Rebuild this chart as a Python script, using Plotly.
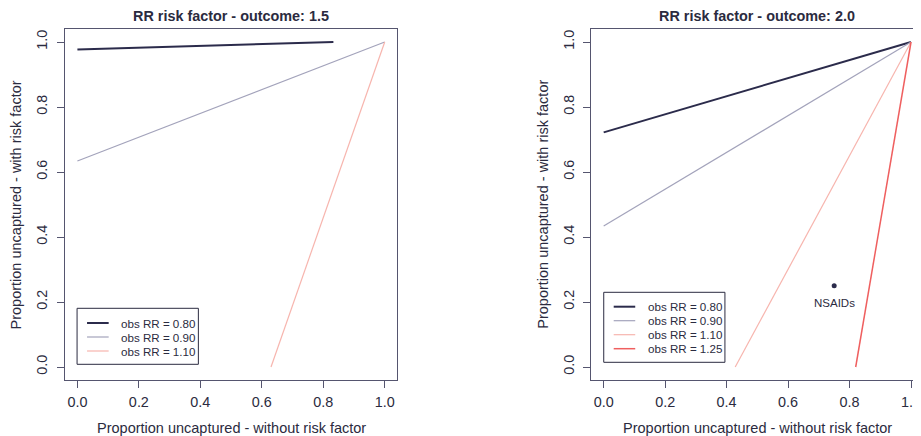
import plotly.graph_objects as go

# ---------------- data ----------------
titles = ["RR risk factor - outcome: 1.5", "RR risk factor - outcome: 2.0"]
x_title = "Proportion uncaptured - without risk factor"
y_title = "Proportion uncaptured - with risk factor"
tick_vals = [0.0, 0.2, 0.4, 0.6, 0.8, 1.0]
tick_text = ["0.0", "0.2", "0.4", "0.6", "0.8", "1.0"]

obs_rr_labels = ["obs RR = 0.80", "obs RR = 0.90", "obs RR = 1.10", "obs RR = 1.25"]

# panel 1 (RR risk factor - outcome 1.5)
p1_x = [[0.0, 0.833], [0.0, 1.0], [0.630, 1.0]]
p1_y = [[0.977, 1.0], [0.634, 1.0], [0.0, 1.0]]

# panel 2 (RR risk factor - outcome 2.0)
p2_x = [[0.0, 1.0], [0.0, 1.0], [0.428, 1.0], [0.820, 1.0]]
p2_y = [[0.722, 1.0], [0.434, 1.0], [0.0, 1.0], [0.0, 1.0]]

point_label = ["NSAIDs"]
point_x = [0.75]
point_y = [0.25]

# ---------------- style ----------------
OFF = 8  # page body margin
W, H = 921 - OFF, 436 - OFF
FONT = "Liberation Sans, Arial, Helvetica, sans-serif"
TXT = "#2b2b40"
AX = "#55556f"
colors = ["#2b2b4b", "#a3a3bb", "#f7b5ae", "#ef5f5f"]
widths = [2.0, 1.2, 1.2, 1.5]


def px(x):
    return (x - OFF) / W


def py(y):
    return 1 - (y - OFF) / H


fig = go.Figure()

for i, (xs, ys) in enumerate(zip(p1_x, p1_y)):
    fig.add_trace(go.Scatter(x=xs, y=ys, mode="lines", xaxis="x", yaxis="y",
                             line=dict(color=colors[i], width=widths[i]),
                             name=obs_rr_labels[i], showlegend=False))
for i, (xs, ys) in enumerate(zip(p2_x, p2_y)):
    fig.add_trace(go.Scatter(x=xs, y=ys, mode="lines", xaxis="x2", yaxis="y2",
                             line=dict(color=colors[i], width=widths[i]),
                             name=obs_rr_labels[i], showlegend=False))

fig.add_trace(go.Scatter(x=point_x, y=point_y, mode="markers", xaxis="x2", yaxis="y2",
                         marker=dict(color=colors[0], size=5), showlegend=False))
for lx, ly, lt in zip(point_x, point_y, point_label):
    fig.add_annotation(x=lx, y=ly, xref="x2", yref="y2", text=lt, showarrow=False,
                       yshift=-17.6, font=dict(family=FONT, size=11.5, color=TXT))

ydom = [py(380), py(29)]
axis_common = dict(
    tickvals=tick_vals, ticktext=tick_text, ticks="outside", ticklen=7,
    tickwidth=1, tickcolor=AX, showline=True, linecolor=AX, linewidth=1,
    showgrid=False, zeroline=False,
    tickfont=dict(family=FONT, size=14.4, color=TXT),
)

fig.update_layout(
    width=W, height=H,
    margin=dict(l=0, r=0, t=0, b=0, pad=0),
    plot_bgcolor="white", paper_bgcolor="white",
    showlegend=False,
    xaxis=dict(domain=[px(65.3), px(398.3)], range=[-0.04, 1.04], anchor="y",
               mirror=True, ticklabelstandoff=2, **axis_common),
    yaxis=dict(domain=ydom, range=[-0.04, 1.04], anchor="x", mirror=True,
               tickangle=-90, ticklabelstandoff=4, **axis_common),
    xaxis2=dict(domain=[px(593.3), 1.0], range=[-0.04, 1.0227], anchor="y2",
                mirror=True, ticklabelstandoff=2, ticklabeloverflow="allow", **axis_common),
    yaxis2=dict(domain=ydom, range=[-0.04, 1.04], anchor="x2", mirror=False,
                tickangle=-90, ticklabelstandoff=4, **axis_common),
)

# titles and axis titles
for cx, t in zip([231.8, 759.8], titles):
    fig.add_annotation(x=px(cx), y=py(16), xref="paper", yref="paper", text="<b>%s</b>" % t,
                       showarrow=False, xanchor="center", yanchor="middle",
                       font=dict(family=FONT, size=14.4, color=TXT))
for cx in [231.8, 759.8]:
    fig.add_annotation(x=px(cx), y=py(428), xref="paper", yref="paper", text=x_title,
                       showarrow=False, xanchor="center", yanchor="middle",
                       font=dict(family=FONT, size=14.5, color=TXT))
for cx in [16, 544]:
    fig.add_annotation(x=px(cx), y=py(204.5), xref="paper", yref="paper", text=y_title,
                       showarrow=False, xanchor="center", yanchor="middle", textangle=-90,
                       font=dict(family=FONT, size=14.5, color=TXT))

# legends (drawn as boxes with sample lines and labels)
legends = [
    dict(box=(77.3, 308.3, 199.0, 364.3), rows=[323.0, 337.0, 351.0], lx=(87.3, 109.0), tx=119.3, n=3),
    dict(box=(605.7, 292.3, 727.3, 362.3), rows=[306.7, 320.7, 334.7, 348.7], lx=(615.7, 637.3), tx=647.7, n=4),
]
for lg in legends:
    x0, y0, x1, y1 = lg["box"]
    fig.add_shape(type="rect", xref="paper", yref="paper", x0=px(x0), x1=px(x1),
                  y0=py(y1), y1=py(y0), line=dict(color=TXT, width=1), fillcolor="white")
    for i in range(lg["n"]):
        ry = lg["rows"][i]
        fig.add_shape(type="line", xref="paper", yref="paper", x0=px(lg["lx"][0]), x1=px(lg["lx"][1]),
                      y0=py(ry), y1=py(ry), line=dict(color=colors[i], width=widths[i]))
        fig.add_annotation(x=px(lg["tx"]), y=py(ry), xref="paper", yref="paper",
                           text=obs_rr_labels[i], showarrow=False, xanchor="left", yanchor="middle",
                           font=dict(family=FONT, size=11.6, color=TXT))

fig.write_html("out.html")
